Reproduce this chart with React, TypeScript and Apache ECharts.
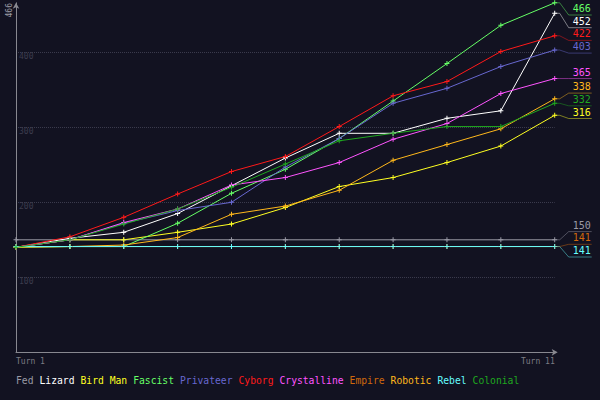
import React, { useEffect, useRef } from 'react';
import * as echarts from 'echarts';

const turns = ['Turn 1', 'Turn 2', 'Turn 3', 'Turn 4', 'Turn 5', 'Turn 6', 'Turn 7', 'Turn 8', 'Turn 9', 'Turn 10', 'Turn 11'];

const factions = ['Fed', 'Lizard', 'Bird Man', 'Fascist', 'Privateer', 'Cyborg', 'Crystalline', 'Empire', 'Robotic', 'Rebel', 'Colonial'];
const colors = ['#9a9aa6', '#ffffff', '#ffff22', '#66ff66', '#6868d0', '#ff1a1a', '#ff55ff', '#d0680c', '#ffb81c', '#66ffff', '#1fa81f'];

const fed = [150, 150, 150, 150, 150, 150, 150, 150, 150, 150, 150];
const lizard = [140, 152, 160, 185, 222, 259, 292, 292, 312, 322, 452];
const birdMan = [140, 150, 150, 160, 171, 193, 221, 233, 253, 275, 316];
const fascist = [140, 141, 141, 172, 212, 244, 285, 335, 385, 436, 466];
const privateer = [140, 150, 172, 189, 200, 247, 285, 332, 352, 381, 403];
const cyborg = [140, 154, 180, 211, 241, 261, 301, 342, 361, 401, 422];
const crystalline = [140, 150, 173, 191, 223, 233, 253, 284, 305, 345, 365];
const empire = [141, 141, 141, 141, 141, 141, 141, 141, 141, 141, 141];
const robotic = [140, 141, 143, 153, 184, 195, 216, 256, 277, 298, 338];
const rebel = [141, 141, 141, 141, 141, 141, 141, 141, 141, 141, 141];
const colonial = [140, 150, 171, 191, 220, 251, 282, 292, 301, 301, 332];

const scores = [fed, lizard, birdMan, fascist, privateer, cyborg, crystalline, empire, robotic, rebel, colonial];

const FONT = '"DejaVu Sans Mono", monospace';
const plus = 'path://M2,0H3V5H2Z M0,2H5V3H0Z';

const last = turns.length - 1;
const finals = scores.map(s => s[last]);
const maxScore = Math.max(...scores.flat());

// spread end labels so they don't overlap, keeping each group centred on its anchors
function spreadLabels(anchors: number[], gap: number, minTop: number): number[] {
  const order = anchors.map((_, i) => i).sort((a, b) => anchors[a] - anchors[b] || a - b);
  const clusters: { items: number[]; sum: number; start: number }[] = [];
  for (const i of order) {
    clusters.push({ items: [i], sum: anchors[i], start: Math.max(minTop, anchors[i]) });
    while (clusters.length > 1) {
      const cur = clusters[clusters.length - 1];
      const prev = clusters[clusters.length - 2];
      if (prev.start + prev.items.length * gap <= cur.start) break;
      clusters.pop();
      prev.items.push(...cur.items);
      prev.sum += cur.sum;
      const n = prev.items.length;
      prev.start = Math.max(minTop, prev.sum / n - ((n - 1) * gap) / 2);
    }
  }
  const out: number[] = [];
  clusters.forEach(c => c.items.forEach((idx, k) => { out[idx] = c.start + k * gap; }));
  return out;
}

const App: React.FC = () => {
  const chartRef = useRef<HTMLDivElement>(null);

  useEffect(() => {
    if (!chartRef.current) return;
    const chart = echarts.init(chartRef.current, null, { renderer: 'svg' });

    const lineSeries = factions.map((name, i) => ({
      name,
      type: 'line',
      data: scores[i],
      symbol: plus,
      symbolSize: 5,
      showAllSymbol: true,
      silent: true,
      lineStyle: { width: 1, color: colors[i] },
      itemStyle: { color: colors[i] },
      emphasis: { disabled: true },
    }));

    const endLabels = {
      name: 'labels',
      type: 'custom',
      silent: true,
      z: 5,
      data: finals.map((v, i) => [last, v, i]),
      encode: { x: 0, y: 1 },
      renderItem: (params: any, api: any) => {
        const idx = params.dataIndex;
        const anchors = finals.map(v => api.coord([last, v])[1]);
        const ys = spreadLabels(anchors, 12.7, 15);
        const p = api.coord([last, finals[idx]]);
        const u = ys[idx];
        return {
          type: 'group',
          children: [
            {
              type: 'polyline',
              shape: { points: [[p[0], p[1]], [p[0] + 5, p[1]], [p[0] + 14, u], [p[0] + 37, u]] },
              style: { stroke: colors[idx], opacity: 0.45, lineWidth: 1, fill: null },
            },
            {
              type: 'text',
              style: {
                text: String(finals[idx]),
                x: p[0] + 36,
                y: u - 6.5,
                align: 'right',
                verticalAlign: 'middle',
                fill: colors[idx],
                font: `10px ${FONT}`,
              },
            },
          ],
        };
      },
    };

    chart.setOption({
      animation: false,
      backgroundColor: '#121221',
      textStyle: { fontFamily: FONT },
      grid: { left: 16, right: 45.3, top: 2.8, bottom: 47.7, containLabel: false },
      legend: {
        left: 11,
        top: 373,
        padding: 0,
        icon: 'none',
        itemWidth: 0,
        itemHeight: 14,
        itemGap: 1,
        selectedMode: false,
        textStyle: { fontFamily: FONT, fontSize: 9.7 },
        data: factions.map((name, i) => ({ name, textStyle: { color: colors[i] } })),
      },
      xAxis: {
        type: 'category',
        data: turns,
        boundaryGap: false,
        axisLine: {
          lineStyle: { color: '#888890', width: 1 },
          symbol: ['none', 'arrow'],
          symbolSize: [5, 6],
          symbolOffset: [0, 3],
        },
        axisTick: { show: false },
        axisLabel: {
          interval: 0,
          formatter: (v: string, i: number) => (i === 0 || i === last ? v : ''),
          color: '#7c7c84',
          fontFamily: FONT,
          fontSize: 8,
          margin: 5,
          alignMinLabel: 'left',
          alignMaxLabel: 'right',
        },
        splitLine: { show: false },
      },
      yAxis: {
        type: 'value',
        min: 0,
        max: maxScore,
        interval: 100,
        axisLine: {
          show: true,
          lineStyle: { color: '#888890', width: 1 },
          symbol: ['none', 'arrow'],
          symbolSize: [5, 6],
        },
        axisTick: { show: false },
        axisLabel: {
          inside: true,
          margin: 3,
          verticalAlign: 'top',
          color: '#3c3c4e',
          fontFamily: FONT,
          fontSize: 8,
          formatter: (v: number) => (v > 0 && v < maxScore ? String(v) : ''),
        },
        splitLine: {
          show: true,
          showMinLine: false,
          showMaxLine: false,
          lineStyle: { color: '#3a3a4c', type: 'dotted', width: 1 },
        },
      },
      graphic: [
        {
          // axis maximum, written upwards beside the y axis
          type: 'text',
          x: 5,
          y: 17.5,
          rotation: Math.PI / 2,
          silent: true,
          style: {
            text: String(maxScore),
            align: 'left',
            verticalAlign: 'top',
            fill: '#9a9aa4',
            font: `8px ${FONT}`,
          },
        },
      ],
      series: [...lineSeries, endLabels],
    });

    return () => {
      chart.dispose();
    };
  }, []);

  return (
    <div
      ref={chartRef}
      style={{ position: 'fixed', left: 0, top: 0, width: 600, height: 400 }}
    />
  );
};

export default App;
